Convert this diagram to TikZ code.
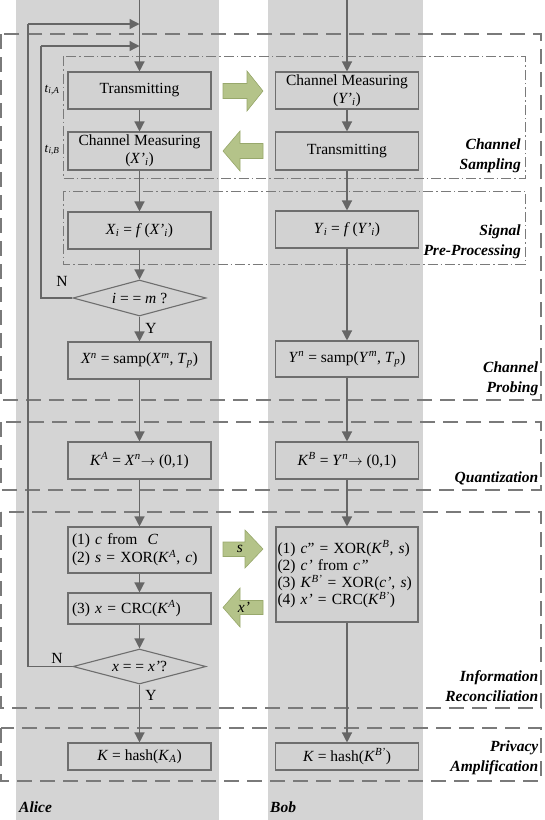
\documentclass[tikz,border=0pt]{standalone}
\usepackage{fontspec}
\setmainfont{Liberation Serif}
\usetikzlibrary{shapes.geometric,arrows.meta}
\definecolor{lane}{HTML}{D4D4D4}
\definecolor{boxfill}{HTML}{D2D2D2}
\definecolor{boxline}{HTML}{6E6E6E}
\definecolor{lineclr}{HTML}{666666}
\definecolor{dashclr}{HTML}{7A7A7A}
\definecolor{arrowgreen}{HTML}{B4C389}
\definecolor{arrowedge}{HTML}{98A86C}
\newcommand{\ital}[1]{\textit{#1}}
\begin{document}
\begin{tikzpicture}[x=1pt,y=-1pt,
  font=\fontsize{15.5}{18}\selectfont,
  procbox/.style={draw=boxline, fill=boxfill, line width=1.1pt, minimum width=143pt, inner sep=2pt, align=center},
  leftbox/.style={procbox, text width=135pt, align=left},
  decision/.style={diamond, draw=boxline, fill=boxfill, line width=1.1pt, minimum width=133pt, minimum height=36pt, inner sep=0pt, aspect=3.7},
  flow/.style={draw=lineclr, line width=1.3pt, -{Triangle[length=10pt,width=10pt]}},
  plainline/.style={draw=lineclr, line width=1.3pt},
  probebox/.style={draw=dashclr, line width=1.2pt, dash pattern=on 15pt off 8pt},
  subbox/.style={draw=dashclr, line width=0.8pt, dash pattern=on 10pt off 3pt on 1.5pt off 3pt},
  phase/.style={font=\fontsize{15.5}{20}\selectfont\bfseries\itshape, align=right, anchor=east, inner sep=0pt},
  bigarrow/.style={fill=arrowgreen, draw=arrowedge, line width=0.6pt},
  lbl/.style={inner sep=0pt}]
\useasboundingbox (0,0) rectangle (544,820);
% lanes
\fill[lane] (16,0) rectangle (219,820);
\fill[lane] (268,0) rectangle (423,820);
% phase boxes
\draw[probebox] (1,34) rectangle (541,400);
\draw[probebox] (1,422) rectangle (541,490);
\draw[probebox] (1,512) rectangle (541,708);
\draw[probebox] (1,728) rectangle (541,781);
\draw[subbox] (63,56) rectangle (525,178);
\draw[subbox] (63,191) rectangle (525,264);
% Alice nodes
\node[procbox, minimum height=37pt] (aT) at (139.5,90.5) {Transmitting};
\node[procbox, minimum height=38pt, inner sep=0pt] (aCM) at (139.5,151) {Channel Measuring\\(\ital{X'}\textsubscript{\ital{i}})};
\node[procbox, minimum height=37pt] (aX) at (139.5,230.5) {\ital{X}\textsubscript{\ital{i}} = \ital{f}\,(\ital{X'}\textsubscript{\ital{i}})};
\node[decision] (ad1) at (139.5,298) {\ital{i} = = \ital{m} ?};
\node[procbox, minimum height=37pt] (aXn) at (139.5,360.5) {\ital{X}\textsuperscript{\ital{n}} = samp(\ital{X}\textsuperscript{\ital{m}}, \ital{T}\textsubscript{\ital{p}})};
\node[procbox, minimum height=37pt] (aKA) at (139.5,460.5) {\ital{K}\textsuperscript{\ital{A}} = \ital{X}\textsuperscript{\ital{n}}$\rightarrow$ (0,1)};
\node[leftbox, minimum height=46pt, inner sep=3pt] (aS) at (139.5,550) {(1) \ital{c} from\ \ \ital{C}\\(2) \ital{s} = XOR(\ital{K}\textsuperscript{\ital{A}}, \ital{c})};
\node[leftbox, minimum height=31pt, inner sep=3pt] (aC) at (139.5,608.5) {(3) \ital{x} = CRC(\ital{K}\textsuperscript{\ital{A}})};
\node[decision, minimum height=35pt] (ad2) at (139.5,666.5) {\ital{x} = = \ital{x'}?};
\node[procbox, minimum height=27pt, inner sep=1pt] (aK) at (139.5,756.5) {\ital{K} = hash(\ital{K}\textsubscript{\ital{A}})};
% Bob nodes
\node[procbox, minimum height=37pt, inner sep=0pt] (bCM) at (347,90.5) {Channel Measuring\\(\ital{Y'}\textsubscript{\ital{i}})};
\node[procbox, minimum height=38pt] (bT) at (347,151) {Transmitting};
\node[procbox, minimum height=37pt] (bY) at (347,229.5) {\ital{Y}\textsubscript{\ital{i}} = \ital{f}\,(\ital{Y'}\textsubscript{\ital{i}})};
\node[procbox, minimum height=36pt] (bYn) at (347,359) {\ital{Y}\textsuperscript{\ital{n}} = samp(\ital{Y}\textsuperscript{\ital{m}}, \ital{T}\textsubscript{\ital{p}})};
\node[procbox, minimum height=37pt] (bKB) at (347,460.5) {\ital{K}\textsuperscript{\ital{B}} = \ital{Y}\textsuperscript{\ital{n}}$\rightarrow$ (0,1)};
\node[procbox, minimum width=142pt, text width=139pt, align=left, minimum height=95pt, inner sep=1.5pt, font=\fontsize{15.5}{17.3}\selectfont] (bBig) at (347,574.5) {(1) \ital{c}" = XOR(\ital{K}\textsuperscript{\ital{B}}, \ital{s})\\(2) \ital{c'} from \ital{c''}\\(3) \ital{K}\textsuperscript{\ital{B'}} = XOR(\ital{c'}, \ital{s})\\(4) \ital{x'} = CRC(\ital{K}\textsuperscript{\ital{B'}})};
\node[procbox, minimum height=27pt, inner sep=1pt] (bK) at (347,756.5) {\ital{K} = hash(\ital{K}\textsuperscript{\ital{B'}})};
% coordinates
\coordinate (aTop) at (139.5,0);
\coordinate (bTop) at (347,0);
\coordinate (aIn1) at (139.5,24);
\coordinate (aIn2) at (139.5,46);
\coordinate (oL) at (28,24);
\coordinate (iL) at (41,46);
% connectors
\draw[flow] (aTop) -- (aT);
\draw[flow] (aT) -- (aCM);
\draw[flow] (aCM) -- (aX);
\draw[flow] (aX) -- (ad1);
\draw[flow] (ad1) -- (aXn);
\draw[flow] (aXn) -- (aKA);
\draw[flow] (aKA) -- (aS);
\draw[flow] (aS) -- (aC);
\draw[flow] (aC) -- (ad2);
\draw[flow] (ad2) -- (aK);
\draw[plainline] (ad2.west) -| (oL);
\draw[flow] (oL) -- (aIn1);
\draw[plainline] (ad1.west) -| (iL);
\draw[flow] (iL) -- (aIn2);
\draw[flow] (bTop) -- (bCM);
\draw[flow] (bCM) -- (bT);
\draw[flow] (bT) -- (bY);
\draw[flow] (bY) -- (bYn);
\draw[flow] (bYn) -- (bKB);
\draw[flow] (bKB) -- (bBig);
\draw[flow] (bBig) -- (bK);
% block arrows
\draw[bigarrow] (223,83.5) -- (247,83.5) -- (247,71) -- (263,91) -- (247,111) -- (247,98.5) -- (223,98.5) -- cycle;
\draw[bigarrow] (263,143.5) -- (240,143.5) -- (240,131) -- (223,151) -- (240,171) -- (240,158.5) -- (263,158.5) -- cycle;
\draw[bigarrow] (223,542) -- (245,542) -- (245,530) -- (263,549) -- (245,568) -- (245,556.5) -- (223,556.5) -- cycle;
\node[lbl] (sLbl) at (240,549) {\ital{s}};
\draw[bigarrow] (263,600.5) -- (240,600.5) -- (240,588) -- (223,607.5) -- (240,627) -- (240,614.5) -- (263,614.5) -- cycle;
\node[lbl] (xLbl) at (244,607.5) {\ital{x'}};
% small labels
\node[lbl, font=\fontsize{13}{15}\selectfont] (tA) at (52,90) {\ital{t}\textsubscript{\ital{i,A}}};
\node[lbl, font=\fontsize{13}{15}\selectfont] (tB) at (52,150) {\ital{t}\textsubscript{\ital{i,B}}};
\node[lbl] (n1) at (62,281) {N};
\node[lbl] (n2) at (57,658) {N};
\node[lbl] (y1) at (151,328) {Y};
\node[lbl] (y2) at (151,695) {Y};
% phase labels
\node[phase] (pCS) at (521,155.5) {Channel\\Sampling};
\node[phase] (pSP) at (521,242) {Signal\\Pre-Processing};
\node[phase] (pCP) at (538.5,379) {Channel\\Probing};
\node[phase] (pQ) at (538.5,478) {Quantization};
\node[phase] (pIR) at (538.5,686) {Information\\Reconciliation};
\node[phase] (pPA) at (538.5,758) {Privacy\\Amplification};
\node[lbl, font=\fontsize{15.5}{18}\selectfont\bfseries\itshape, anchor=west] (alice) at (19,807) {Alice};
\node[lbl, font=\fontsize{15.5}{18}\selectfont\bfseries\itshape, anchor=west] (bob) at (270,807) {Bob};
\end{tikzpicture}
\end{document}
